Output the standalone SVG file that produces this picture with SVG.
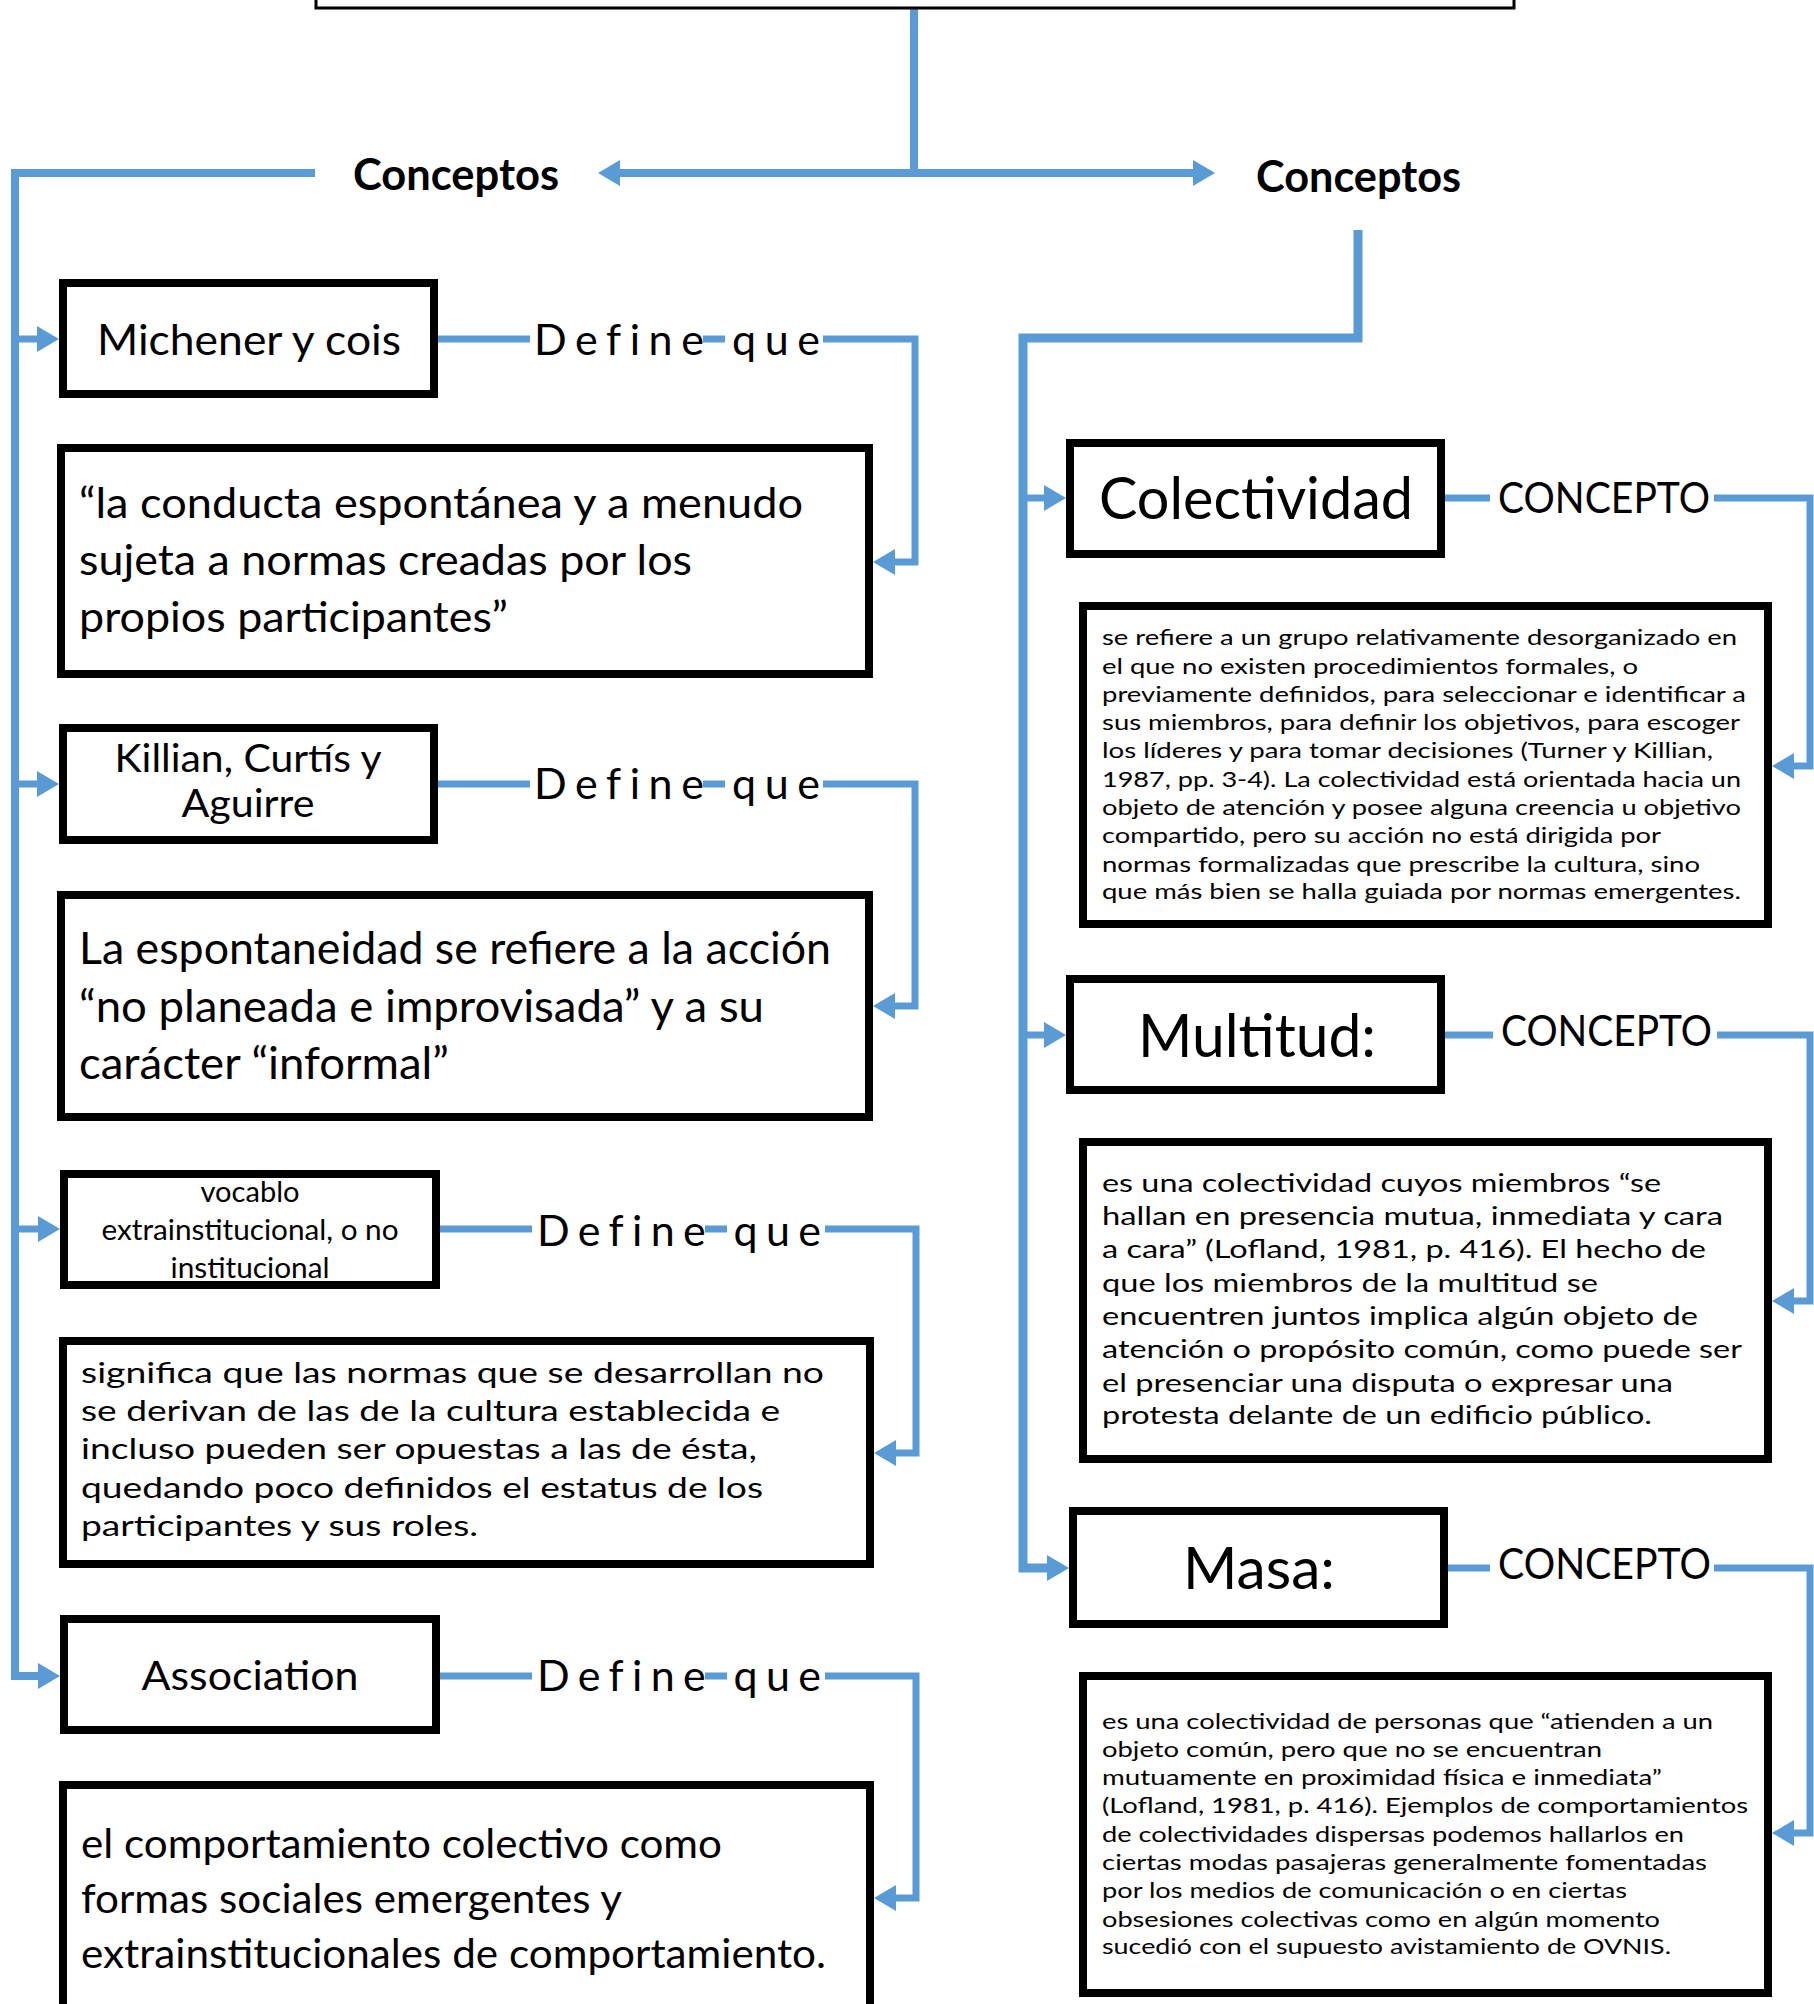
<svg xmlns="http://www.w3.org/2000/svg" width="1814" height="2004" viewBox="0 0 1814 2004">
<style>
.box{fill:#fff;stroke:#000;stroke-width:8}
.ln{fill:none;stroke:#5B9BD5;stroke-width:7;marker-end:url(#ah)}
.tr{fill:none;stroke:#5B9BD5;stroke-width:8}
.t{font-family:Lato,"Open Sans","Liberation Sans",sans-serif;fill:#000}
.c{text-anchor:middle}
.halo{fill:#fff}
.dq{font-size:43px;letter-spacing:10px}
.cp{font-size:43px}
.hd{font-size:43px;font-weight:bold}
</style>
<defs>
<marker id="ah" markerUnits="userSpaceOnUse" markerWidth="22" markerHeight="26" refX="0" refY="13" orient="auto" viewBox="0 0 22 26"><path d="M0 0 L22 13 L0 26 Z" fill="#5B9BD5"/></marker>
</defs>
<rect width="1814" height="2004" fill="#fff"/>

<g id="connectors">
  <path class="tr" d="M914 9 V173"/>
  <path class="ln" style="stroke-width:8" d="M914 173 H620"/>
  <path class="ln" style="stroke-width:8" d="M914 173 H1193"/>
  <path class="ln" style="stroke-width:8" d="M315 173 H15 V1676 H38"/>
  <path class="ln" d="M15 339 H37"/>
  <path class="ln" d="M15 784 H37"/>
  <path class="ln" d="M15 1229 H38"/>
  <path class="ln" style="stroke-width:9" d="M1358 230 V338 H1023 V1568 H1047"/>
  <path class="ln" d="M1023 498 H1044"/>
  <path class="ln" d="M1023 1035 H1044"/>
  <path class="ln" d="M438 339 H915 V562 H895"/>
  <path class="ln" d="M438 784 H915 V1006 H895"/>
  <path class="ln" d="M440 1229 H916 V1453 H896"/>
  <path class="ln" d="M440 1676 H916 V1898 H896"/>
  <path class="ln" d="M1445 498 H1810 V766 H1794"/>
  <path class="ln" d="M1445 1035 H1810 V1301 H1794"/>
  <path class="ln" d="M1448 1568 H1810 V1833 H1794"/>

  <rect class="halo" x="530" y="318" width="173" height="50"/>
  <rect class="halo" x="725" y="318" width="98" height="50"/>
  <rect class="halo" x="530" y="762" width="173" height="50"/>
  <rect class="halo" x="725" y="762" width="98" height="50"/>
  <rect class="halo" x="532" y="1208" width="173" height="50"/>
  <rect class="halo" x="727" y="1208" width="98" height="50"/>
  <rect class="halo" x="532" y="1654" width="173" height="50"/>
  <rect class="halo" x="727" y="1654" width="98" height="50"/>
  <rect class="halo" x="1490" y="476" width="224" height="46"/>
  <rect class="halo" x="1493" y="1012" width="224" height="46"/>
  <rect class="halo" x="1490" y="1545" width="224" height="46"/>

  <text class="t hd" x="353" y="190" textLength="206" lengthAdjust="spacingAndGlyphs">Conceptos</text>
  <text class="t hd" x="1256" y="192" textLength="205" lengthAdjust="spacingAndGlyphs">Conceptos</text>
  <text class="t dq" x="534" y="355" textLength="296">Define que</text>
  <text class="t dq" x="534" y="799" textLength="296">Define que</text>
  <text class="t dq" x="537" y="1246" textLength="294">Define que</text>
  <text class="t dq" x="537" y="1691" textLength="294">Define que</text>
  <text class="t cp" x="1498" y="513" textLength="212" lengthAdjust="spacingAndGlyphs">CONCEPTO</text>
  <text class="t cp" x="1501" y="1046" textLength="211" lengthAdjust="spacingAndGlyphs">CONCEPTO</text>
  <text class="t cp" x="1498" y="1579" textLength="213" lengthAdjust="spacingAndGlyphs">CONCEPTO</text>
</g>

<g id="top-node">
  <rect x="316" y="-30" width="1198" height="38" fill="#fff" stroke="#000" stroke-width="3"/>
</g>

<g id="n-michener">
  <rect class="box" x="63" y="283" width="371" height="111"/>
  <text class="t c" x="249" y="355" font-size="43" textLength="304" lengthAdjust="spacingAndGlyphs">Michener y cois</text>
</g>
<g id="n-def1">
  <rect class="box" x="61" y="448" width="808" height="226"/>
  <g class="t" font-size="43">
    <text x="79" y="518" textLength="724" lengthAdjust="spacingAndGlyphs">“la conducta espontánea y a menudo</text>
    <text x="79" y="575" textLength="613" lengthAdjust="spacingAndGlyphs">sujeta a normas creadas por los</text>
    <text x="79" y="632" textLength="429" lengthAdjust="spacingAndGlyphs">propios participantes”</text>
  </g>
</g>

<g id="n-killian">
  <rect class="box" x="63" y="728" width="371" height="112"/>
  <g class="t c" font-size="38">
    <text x="248" y="772" textLength="267" lengthAdjust="spacingAndGlyphs">Killian, Curtís y</text>
    <text x="248" y="817" textLength="133" lengthAdjust="spacingAndGlyphs">Aguirre</text>
  </g>
</g>
<g id="n-def2">
  <rect class="box" x="61" y="895" width="808" height="222"/>
  <g class="t" font-size="44">
    <text x="79" y="964" textLength="752" lengthAdjust="spacingAndGlyphs">La espontaneidad se refiere a la acción</text>
    <text x="79" y="1022" textLength="685" lengthAdjust="spacingAndGlyphs">“no planeada e improvisada” y a su</text>
    <text x="79" y="1079" textLength="370" lengthAdjust="spacingAndGlyphs">carácter “informal”</text>
  </g>
</g>

<g id="n-vocablo">
  <rect class="box" x="64" y="1174" width="372" height="111"/>
  <g class="t c" font-size="28">
    <text x="250" y="1202" textLength="99" lengthAdjust="spacingAndGlyphs">vocablo</text>
    <text x="250" y="1240" textLength="297" lengthAdjust="spacingAndGlyphs">extrainstitucional, o no</text>
    <text x="250" y="1278" textLength="159" lengthAdjust="spacingAndGlyphs">institucional</text>
  </g>
</g>
<g id="n-def3">
  <rect class="box" x="63" y="1341" width="807" height="223"/>
  <g class="t" font-size="29">
    <text x="81" y="1383" textLength="743" lengthAdjust="spacingAndGlyphs">significa que las normas que se desarrollan no</text>
    <text x="81" y="1421" textLength="699" lengthAdjust="spacingAndGlyphs">se derivan de las de la cultura establecida e</text>
    <text x="81" y="1459" textLength="676" lengthAdjust="spacingAndGlyphs">incluso pueden ser opuestas a las de ésta,</text>
    <text x="81" y="1498" textLength="682" lengthAdjust="spacingAndGlyphs">quedando poco definidos el estatus de los</text>
    <text x="81" y="1536" textLength="397" lengthAdjust="spacingAndGlyphs">participantes y sus roles.</text>
  </g>
</g>

<g id="n-association">
  <rect class="box" x="64" y="1619" width="372" height="111"/>
  <text class="t c" x="250" y="1690" font-size="40" textLength="217" lengthAdjust="spacingAndGlyphs">Association</text>
</g>
<g id="n-def4">
  <rect class="box" x="63" y="1785" width="807" height="260"/>
  <g class="t" font-size="41">
    <text x="81" y="1858" textLength="641" lengthAdjust="spacingAndGlyphs">el comportamiento colectivo como</text>
    <text x="81" y="1913" textLength="541" lengthAdjust="spacingAndGlyphs">formas sociales emergentes y</text>
    <text x="81" y="1968" textLength="745" lengthAdjust="spacingAndGlyphs">extrainstitucionales de comportamiento.</text>
  </g>
</g>

<g id="n-colectividad">
  <rect class="box" x="1070" y="443" width="371" height="111"/>
  <text class="t c" x="1256" y="519" font-size="59" textLength="314" lengthAdjust="spacingAndGlyphs">Colectividad</text>
</g>
<g id="n-def-colectividad">
  <rect class="box" x="1083" y="606" width="685" height="318"/>
  <g class="t" font-size="21.5">
    <text x="1102" y="645" textLength="635" lengthAdjust="spacingAndGlyphs">se refiere a un grupo relativamente desorganizado en</text>
    <text x="1102" y="674" textLength="536" lengthAdjust="spacingAndGlyphs">el que no existen procedimientos formales, o</text>
    <text x="1102" y="702" textLength="644" lengthAdjust="spacingAndGlyphs">previamente definidos, para seleccionar e identificar a</text>
    <text x="1102" y="730" textLength="638" lengthAdjust="spacingAndGlyphs">sus miembros, para definir los objetivos, para escoger</text>
    <text x="1102" y="758" textLength="611" lengthAdjust="spacingAndGlyphs">los líderes y para tomar decisiones (Turner y Killian,</text>
    <text x="1102" y="787" textLength="639" lengthAdjust="spacingAndGlyphs">1987, pp. 3-4). La colectividad está orientada hacia un</text>
    <text x="1102" y="815" textLength="639" lengthAdjust="spacingAndGlyphs">objeto de atención y posee alguna creencia u objetivo</text>
    <text x="1102" y="843" textLength="559" lengthAdjust="spacingAndGlyphs">compartido, pero su acción no está dirigida por</text>
    <text x="1102" y="872" textLength="598" lengthAdjust="spacingAndGlyphs">normas formalizadas que prescribe la cultura, sino</text>
    <text x="1102" y="899" textLength="639" lengthAdjust="spacingAndGlyphs">que más bien se halla guiada por normas emergentes.</text>
  </g>
</g>

<g id="n-multitud">
  <rect class="box" x="1070" y="979" width="371" height="111"/>
  <text class="t c" x="1257" y="1057" font-size="60" textLength="238" lengthAdjust="spacingAndGlyphs">Multitud:</text>
</g>
<g id="n-def-multitud">
  <rect class="box" x="1083" y="1142" width="685" height="317"/>
  <g class="t" font-size="25">
    <text x="1102" y="1192" textLength="559" lengthAdjust="spacingAndGlyphs">es una colectividad cuyos miembros “se</text>
    <text x="1102" y="1225" textLength="621" lengthAdjust="spacingAndGlyphs">hallan en presencia mutua, inmediata y cara</text>
    <text x="1102" y="1258" textLength="604" lengthAdjust="spacingAndGlyphs">a cara” (Lofland, 1981, p. 416). El hecho de</text>
    <text x="1102" y="1292" textLength="496" lengthAdjust="spacingAndGlyphs">que los miembros de la multitud se</text>
    <text x="1102" y="1325" textLength="596" lengthAdjust="spacingAndGlyphs">encuentren juntos implica algún objeto de</text>
    <text x="1102" y="1358" textLength="640" lengthAdjust="spacingAndGlyphs">atención o propósito común, como puede ser</text>
    <text x="1102" y="1392" textLength="571" lengthAdjust="spacingAndGlyphs">el presenciar una disputa o expresar una</text>
    <text x="1102" y="1424" textLength="550" lengthAdjust="spacingAndGlyphs">protesta delante de un edificio público.</text>
  </g>
</g>

<g id="n-masa">
  <rect class="box" x="1073" y="1511" width="371" height="113"/>
  <text class="t c" x="1259" y="1589" font-size="59" textLength="152" lengthAdjust="spacingAndGlyphs">Masa:</text>
</g>
<g id="n-def-masa">
  <rect class="box" x="1083" y="1676" width="685" height="317"/>
  <g class="t" font-size="21.5">
    <text x="1102" y="1729" textLength="611" lengthAdjust="spacingAndGlyphs">es una colectividad de personas que “atienden a un</text>
    <text x="1102" y="1757" textLength="500" lengthAdjust="spacingAndGlyphs">objeto común, pero que no se encuentran</text>
    <text x="1102" y="1785" textLength="560" lengthAdjust="spacingAndGlyphs">mutuamente en proximidad física e inmediata”</text>
    <text x="1102" y="1813" textLength="646" lengthAdjust="spacingAndGlyphs">(Lofland, 1981, p. 416). Ejemplos de comportamientos</text>
    <text x="1102" y="1842" textLength="582" lengthAdjust="spacingAndGlyphs">de colectividades dispersas podemos hallarlos en</text>
    <text x="1102" y="1870" textLength="605" lengthAdjust="spacingAndGlyphs">ciertas modas pasajeras generalmente fomentadas</text>
    <text x="1102" y="1898" textLength="525" lengthAdjust="spacingAndGlyphs">por los medios de comunicación o en ciertas</text>
    <text x="1102" y="1927" textLength="558" lengthAdjust="spacingAndGlyphs">obsesiones colectivas como en algún momento</text>
    <text x="1102" y="1954" textLength="569" lengthAdjust="spacingAndGlyphs">sucedió con el supuesto avistamiento de OVNIS.</text>
  </g>
</g>
</svg>
